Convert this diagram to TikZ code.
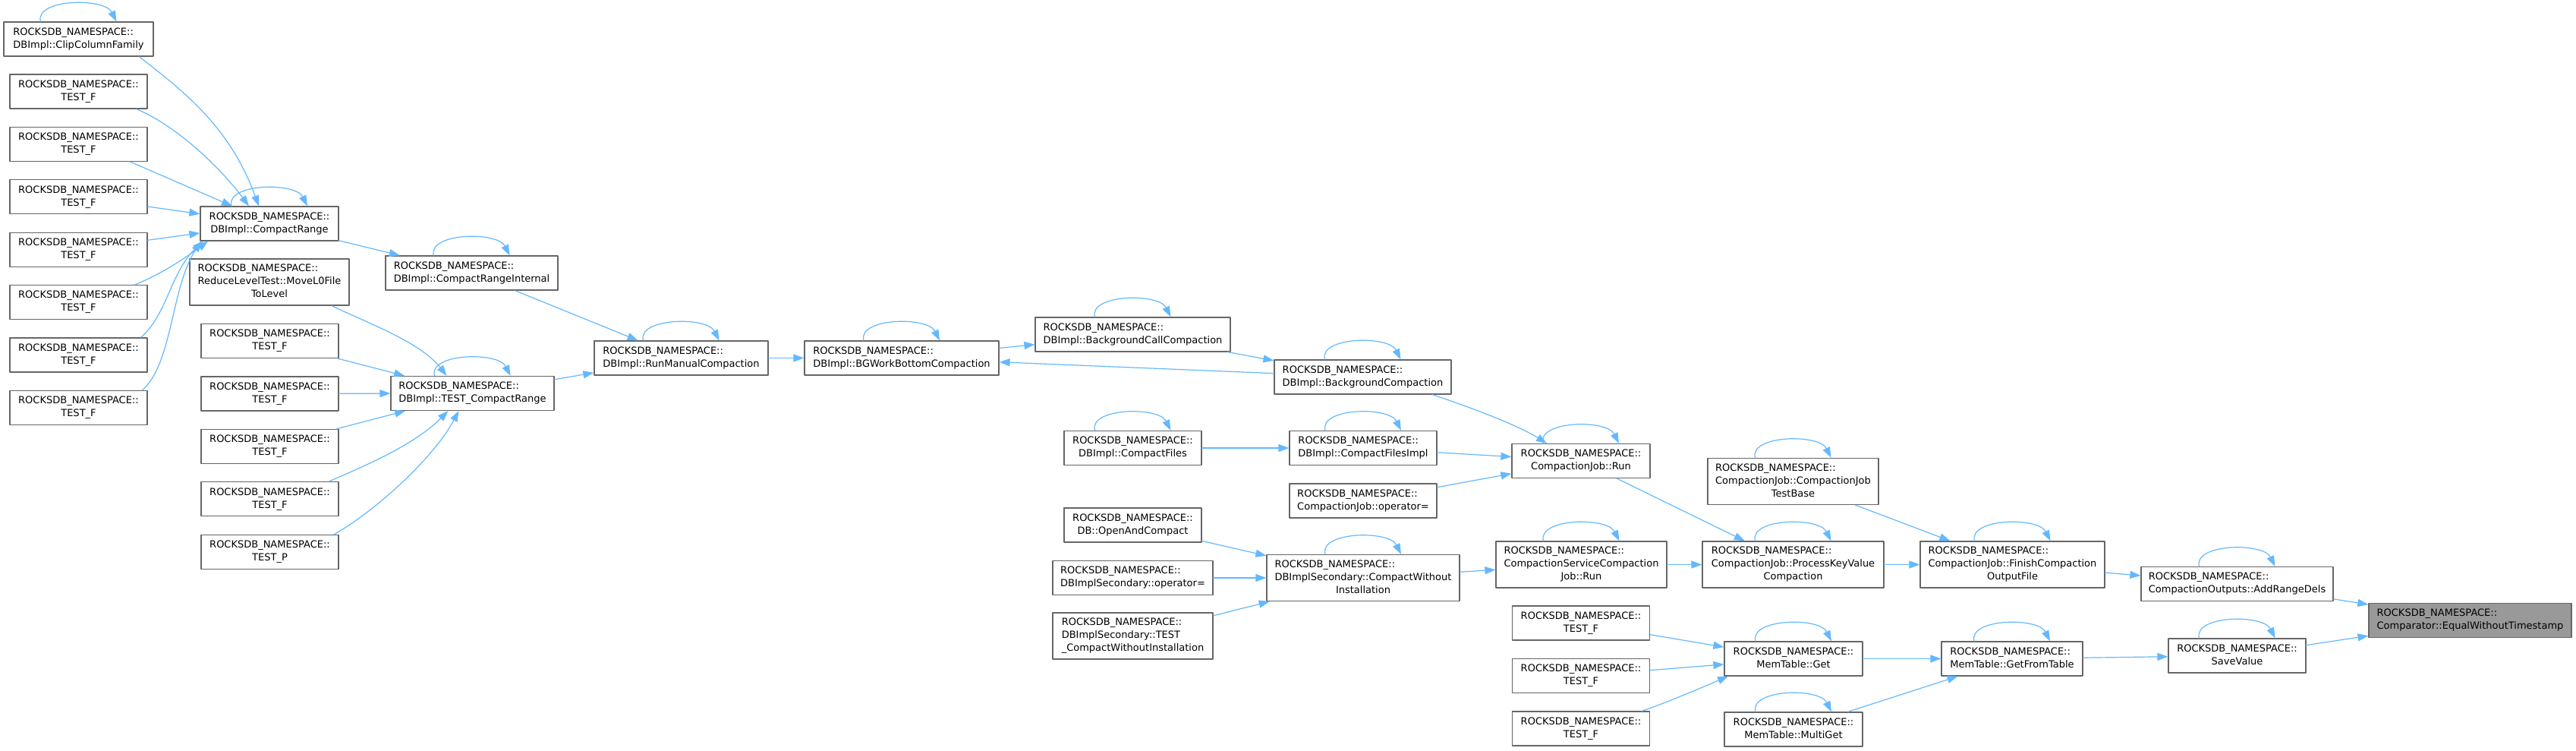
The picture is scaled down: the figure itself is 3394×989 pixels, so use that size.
\documentclass[tikz,border=0pt]{standalone}
\usepackage{fontspec}
\usetikzlibrary{arrows.meta}
\newfontfamily\fnfont{DejaVu Sans}
\definecolor{edgeblue}{HTML}{63B8FF}
\definecolor{nodeline}{HTML}{666666}
\definecolor{focusgray}{HTML}{999999}
\newcommand{\fn}[1]{\begin{tabular}{@{}l@{}}ROCKSDB\_NAMESPACE::\\\multicolumn{1}{@{}c@{}}{#1}\end{tabular}}
\newcommand{\fnn}[2]{\begin{tabular}{@{}l@{}}ROCKSDB\_NAMESPACE::\\#1\\\multicolumn{1}{@{}c@{}}{#2}\end{tabular}}

\begin{document}
\begin{tikzpicture}[x=0.5pt,y=-0.5pt,line cap=round,line join=round,
  fnode/.style={draw=nodeline,fill=white,line width=0.6pt,inner sep=0pt,
    minimum height=22.5pt,font=\fnfont\fontsize{6.5pt}{8.5pt}\selectfont},
  fnode3/.style={fnode,minimum height=30.5pt},
  testbox/.style={fnode,minimum width=90.5pt},
  focus/.style={fill=focusgray},
  edge/.style={draw=edgeblue,line width=0.6pt,-{Triangle[length=7pt,width=5pt]}}]
  \useasboundingbox (0,0) rectangle (3394,989);

  \node[fnode,minimum width=98.5pt] (clip) at (103.5,51.5) {\fn{DBImpl::ClipColumnFamily}};
  \foreach \i in {1,...,7} {
    \node[testbox] (l\i) at (103.5,{51.1+69.4*\i}) {\fn{TEST\_F}};
  }
  \node[fnode,minimum width=91pt] (cr) at (355,294.5) {\fn{DBImpl::CompactRange}};
  \node[fnode3,minimum width=105pt] (rlt) at (355,371.5) {\fnn{ReduceLevelTest::MoveL0File}{ToLevel}};
  \foreach \i in {1,...,4} {
    \node[testbox] (m\i) at (355.5,{379.6+69.4*\i}) {\fn{TEST\_F}};
  }
  \node[testbox] (tp) at (355.5,726.6) {\fn{TEST\_P}};
  \node[fnode,minimum width=113.5pt] (cri) at (621.5,359.5) {\fn{DBImpl::CompactRangeInternal}};
  \node[fnode,minimum width=107.5pt] (tcr) at (622.5,518) {\fn{DBImpl::TEST\_CompactRange}};
  \node[fnode,minimum width=114.5pt] (rmc) at (897.5,471.5) {\fn{DBImpl::RunManualCompaction}};
  \node[fnode,minimum width=128pt] (bgw) at (1188,471.5) {\fn{DBImpl::BGWorkBottomCompaction}};
  \node[fnode,minimum width=128.5pt] (bcc) at (1492.5,440.5) {\fn{DBImpl::BackgroundCallCompaction}};
  \node[fnode,minimum width=116.5pt] (bc) at (1795.5,496.5) {\fn{DBImpl::BackgroundCompaction}};
  \node[testbox] (cf) at (1492.5,590) {\fn{DBImpl::CompactFiles}};
  \node[fnode,minimum width=97pt] (cfi) at (1796,590) {\fn{DBImpl::CompactFilesImpl}};
  \node[fnode,minimum width=97pt] (cjop) at (1796,659.5) {\fn{CompactionJob::operator=}};
  \node[testbox] (oac) at (1492.5,691.5) {\fn{DB::OpenAndCompact}};
  \node[fnode,minimum width=105.5pt] (dsop) at (1492.5,761) {\fn{DBImplSecondary::operator=}};
  \node[fnode3,minimum width=105.5pt] (dstest) at (1492.5,837.5) {\fnn{DBImplSecondary::TEST}{\_CompactWithoutInstallation}};
  \node[fnode3,minimum width=127pt] (cwi) at (1796,761) {\fnn{DBImplSecondary::CompactWithout}{Installation}};
  \node[fnode,minimum width=91pt] (cjrun) at (2083,607) {\fn{CompactionJob::Run}};
  \node[fnode3,minimum width=112.5pt] (cscj) at (2083.5,743.5) {\fnn{CompactionServiceCompaction}{Job::Run}};
  \node[fnode3,minimum width=119.5pt] (pkv) at (2362.5,743.5) {\fnn{CompactionJob::ProcessKeyValue}{Compaction}};
  \node[fnode3,minimum width=112.5pt] (cjtb) at (2362.5,634) {\fnn{CompactionJob::CompactionJob}{TestBase}};
  \foreach \i in {1,...,3} {
    \node[testbox] (r\i) at (2083,{751+69.5*\i}) {\fn{TEST\_F}};
  }
  \node[fnode,minimum width=91pt] (get) at (2363,867.5) {\fn{MemTable::Get}};
  \node[fnode,minimum width=91pt] (mget) at (2363,960.5) {\fn{MemTable::MultiGet}};
  \node[fnode3,minimum width=121.5pt] (fcof) at (2651.5,743.5) {\fnn{CompactionJob::FinishCompaction}{OutputFile}};
  \node[fnode,minimum width=93pt] (gft) at (2651,867.5) {\fn{MemTable::GetFromTable}};
  \node[fnode,minimum width=126.5pt] (ard) at (2947.5,769) {\fn{CompactionOutputs::AddRangeDels}};
  \node[testbox] (sv) at (2947.5,863.5) {\fn{SaveValue}};
  \node[fnode,focus,minimum width=133.5pt] (ewt) at (3254.5,817) {\fn{Comparator::EqualWithoutTimestamp}};

  \foreach \n in {clip,cr,cri,tcr,rmc,bgw,bcc,bc,cf,cfi,cwi,cjrun,cscj,pkv,cjtb,get,mget,fcof,gft,ard,sv} {
    \draw[edge] ([xshift=-25pt]\n.north) .. controls +(-4pt,15pt) and +(-8pt,16pt) .. ([xshift=25pt]\n.north);
  }

  \draw[edge] ([xshift=40pt]clip.south) .. controls +(50,40) and +(-40,-110) .. ([xshift=-7pt]cr.north);
  \draw[edge] ([xshift=38pt]l1.south) .. controls +(45,18) and +(-45,-60) .. ([xshift=-13.5pt]cr.north);
  \draw[edge] ([xshift=34pt]l2.south) -- ([xshift=-24.5pt]cr.north);
  \draw[edge] (l3) -- (cr);
  \draw[edge] (l4) -- (cr);
  \draw[edge] ([xshift=37pt]l5.north) .. controls +(30,-12) and +(-38,28) .. ([xshift=-40.5pt]cr.south);
  \draw[edge] ([xshift=41pt]l6.north) .. controls +(35,-30) and +(-43,40) .. ([xshift=-43.5pt]cr.south);
  \draw[edge] ([xshift=42pt]l7.north) .. controls +(40,-35) and +(-40,62) .. ([xshift=-45pt]cr.south);

  \draw[edge] (cr) -- (cri);
  \draw[edge] (cri) -- (rmc);
  \draw[edge] ([xshift=41pt]rlt.south) .. controls +(45,22) and +(-35,-45) .. ([xshift=-17pt]tcr.north);
  \draw[edge] (m1) -- (tcr);
  \draw[edge] (m2) -- (tcr);
  \draw[edge] (m3) -- (tcr);
  \draw[edge] ([xshift=39pt]m4.north) .. controls +(50,-22) and +(-45,45) .. ([xshift=-16pt]tcr.south);
  \draw[edge] ([xshift=42.5pt]tp.north) .. controls +(50,-28) and +(-35,65) .. ([xshift=-9pt]tcr.south);
  \draw[edge] (tcr) -- (rmc);

  \draw[edge] (rmc) -- (bgw);
  \draw[edge] (bgw) -- (bcc);
  \draw[edge] (bcc) -- (bc);
  \draw[edge] (bc) -- (bgw);
  \draw[edge] ([xshift=45.75pt]bc.south) .. controls +(45,15) and +(-40,-25) .. ([xshift=-22.5pt]cjrun.north);
  \draw[edge] (cf) -- (cfi);
  \draw[edge] (cfi) -- (cjrun);
  \draw[edge] (cjop) -- (cjrun);
  \draw[edge] (oac) -- (cwi);
  \draw[edge] (dsop) -- (cwi);
  \draw[edge] (dstest) -- (cwi);
  \draw[edge] (cwi) -- (cscj);

  \draw[edge] (cjrun) -- (pkv);
  \draw[edge] (cscj) -- (pkv);
  \draw[edge] (cjtb) -- (fcof);
  \draw[edge] (pkv) -- (fcof);
  \draw[edge] (r1) -- (get);
  \draw[edge] (r2) -- (get);
  \draw[edge] ([xshift=40pt]r3.north) .. controls +(30,-10) and +(-35,15) .. ([xshift=-43pt]get.south);
  \draw[edge] (get) -- (gft);
  \draw[edge] (mget) -- (gft);

  \draw[edge] (fcof) -- (ard);
  \draw[edge] (ard) -- (ewt);
  \draw[edge] (gft) -- (sv);
  \draw[edge] (sv) -- (ewt);
\end{tikzpicture}
\end{document}
